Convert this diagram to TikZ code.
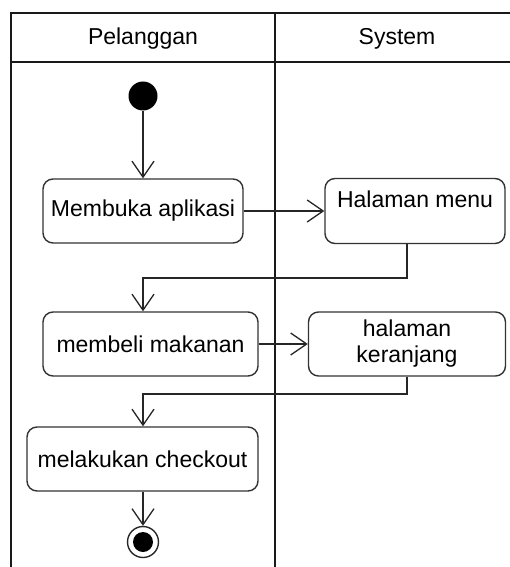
\documentclass[tikz,border=0pt]{standalone}
\usepackage{fontspec}
\setmainfont{Liberation Sans}
\usetikzlibrary{arrows.meta}
\begin{document}
\begin{tikzpicture}[x=1pt,y=-1pt,
  lane/.style={line width=1.9pt, draw=black!90},
  act/.style={draw=black!80, line width=1.4pt, rounded corners=10pt, fill=white,
    font=\fontsize{23}{26}\selectfont, align=center, inner sep=4.5pt},
  flow/.style={line width=1.3pt, draw=black!85,
    -{Straight Barb[length=16pt,width=22pt,line width=1.3pt]}},
  hdr/.style={font=\fontsize{23}{26}\selectfont}]
  \useasboundingbox (0,0) rectangle (510,567);

  % swimlane frame
  \draw[lane] (510,13) -- (11,13) -- (11,567);
  \draw[lane] (11,62) -- (510,62);
  \draw[lane, line width=2.8pt] (275,13) -- (275,567);
  \node[hdr] (h1) at (143,39) {Pelanggan};
  \node[hdr] (h2) at (397,39) {System};

  % start and end states
  \node[circle, fill=black, minimum size=29pt, inner sep=0pt] (start) at (143,96) {};
  \node[circle, draw=black!85, line width=1.4pt, minimum size=31pt, inner sep=0pt] (stop) at (143,542) {};
  \node[circle, fill=black, minimum size=20pt, inner sep=0pt] (stopin) at (143,542) {};

  % activities
  \node[act, minimum width=200pt, minimum height=64pt] (mb) at (143,211) {Membuka aplikasi};
  \node[act, minimum width=180pt, minimum height=65pt, text height=24.5pt, text depth=31.5pt] (hm) at (415,211) {Halaman menu};
  \node[act, minimum width=215pt, minimum height=64pt] (mm) at (150.5,344) {membeli makanan};
  \node[act, minimum width=197pt, minimum height=64pt] (hk) at (407,344) {halaman\\keranjang};
  \node[act, minimum width=231pt, minimum height=64pt] (co) at (142.5,459) {melakukan checkout};

  % bends of the return flows
  \coordinate (j1) at (143,278);
  \coordinate (j2) at (143,394);

  % flows
  \draw[flow] (start) -- (mb.north);
  \draw[flow] (mb.east) -- (hm.west);
  \draw[flow] ([xshift=-8pt]hm.south) |- (j1) -- (j1 |- mm.north);
  \draw[flow] (mm.east) -- (hk.west);
  \draw[flow] (hk.south) |- (j2) -- (j2 |- co.north);
  \draw[flow] (co.south -| stop.north) -- (stop.north);
\end{tikzpicture}
\end{document}
